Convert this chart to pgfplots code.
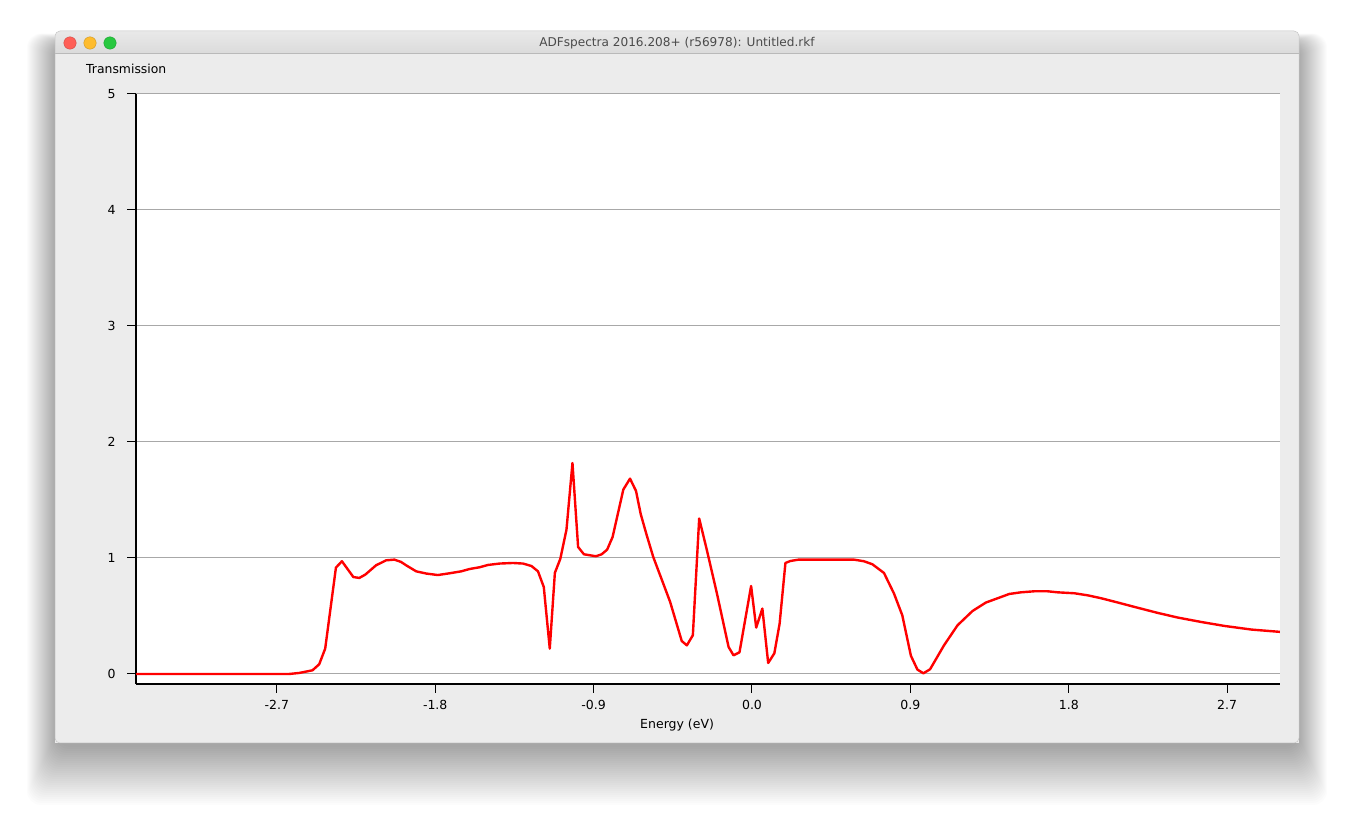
\documentclass[border=0pt]{standalone}
\usepackage{fontspec}
\setmainfont{DejaVu Sans}
\usepackage{pgfplots}
\pgfplotsset{compat=1.18}
\definecolor{winbg}{HTML}{ECECEC}
\definecolor{titletop}{HTML}{E9E9E9}
\definecolor{titlebot}{HTML}{D4D4D4}
\definecolor{titletext}{HTML}{4A4A4A}
\definecolor{gridgray}{HTML}{A8A8A8}
\definecolor{mred}{HTML}{FF5F57}
\definecolor{myellow}{HTML}{FEBC2E}
\definecolor{mgreen}{HTML}{28C840}
\pgfplotstableread{
x y
-3.5 0
-2.63 0
-2.573 0.009
-2.497 0.032
-2.459 0.084
-2.425 0.219
-2.364 0.917
-2.330 0.972
-2.265 0.836
-2.231 0.828
-2.197 0.857
-2.136 0.937
-2.079 0.980
-2.032 0.986
-1.994 0.966
-1.965 0.937
-1.908 0.885
-1.851 0.866
-1.785 0.853
-1.719 0.868
-1.652 0.885
-1.605 0.905
-1.548 0.920
-1.500 0.940
-1.434 0.952
-1.358 0.957
-1.301 0.952
-1.253 0.931
-1.216 0.885
-1.183 0.750
-1.149 0.219
-1.120 0.872
-1.089 0.993
-1.054 1.245
-1.020 1.819
-0.988 1.095
-0.955 1.032
-0.887 1.015
-0.854 1.032
-0.823 1.072
-0.792 1.181
-0.731 1.590
-0.693 1.684
-0.659 1.578
-0.632 1.377
-0.598 1.196
-0.561 1.009
-0.465 0.621
-0.399 0.284
-0.370 0.247
-0.336 0.334
-0.300 1.340
-0.256 1.066
-0.199 0.693
-0.133 0.233
-0.105 0.161
-0.071 0.187
-0.005 0.759
0.024 0.400
0.059 0.564
0.092 0.095
0.127 0.178
0.157 0.434
0.190 0.957
0.218 0.974
0.265 0.986
0.579 0.986
0.636 0.972
0.684 0.946
0.750 0.871
0.807 0.693
0.854 0.506
0.903 0.157
0.940 0.038
0.974 0.006
1.012 0.041
1.091 0.247
1.168 0.420
1.253 0.543
1.329 0.616
1.396 0.653
1.462 0.690
1.528 0.704
1.604 0.713
1.680 0.713
1.737 0.704
1.832 0.696
1.908 0.678
1.984 0.653
2.079 0.616
2.174 0.578
2.307 0.526
2.421 0.486
2.554 0.448
2.686 0.414
2.838 0.383
3.009 0.362
}\transmission
\begin{document}
\begin{tikzpicture}[x=1pt,y=1pt]
% canvas
\fill[white] (0,0) rectangle (1355,824);
% soft shadow
\foreach \i in {1,...,30} {
  \fill[black,opacity=0.013,rounded corners=14pt] (57-1.0*\i, 79-2.0*\i) rectangle (1297+1.0*\i, 780+0.35*\i);
}
% window title bar
\shade[top color=titletop,bottom color=titlebot,rounded corners=5pt] (55,760) rectangle (1299,793);
\fill[winbg] (55,81) rectangle (1299,771);
\draw[gray!55,line width=0.6pt] (55,771) -- (1299,771);
\draw[gray!45,line width=0.5pt,rounded corners=5pt] (55,81) -- (55,793) -- (1299,793) -- (1299,81) -- cycle;
% traffic lights
\fill[mred] (70,781) circle (6.2);
\draw[mred!80!black,line width=0.4pt] (70,781) circle (6.2);
\fill[myellow] (90,781) circle (6.2);
\draw[myellow!80!black,line width=0.4pt] (90,781) circle (6.2);
\fill[mgreen] (110,781) circle (6.2);
\draw[mgreen!80!black,line width=0.4pt] (110,781) circle (6.2);
\node[text=titletext,font=\fontsize{12.1}{14}\selectfont] at (677,781) {ADFspectra 2016.208+ (r56978): Untitled.rkf};
\begin{axis}[
  at={(136pt,140pt)}, anchor=south west,
  scale only axis, width=1144pt, height=590pt,
  xmin=-3.5, xmax=3.0, ymin=-0.0862, ymax=5,
  axis x line=bottom, axis y line=left,
  axis line style={-, line width=2.5pt, black},
  axis background/.style={fill=white},
  xtick={-2.7,-1.8,-0.9,0,0.9,1.8,2.7},
  ytick={0,1,2,3,4,5},
  ymajorgrids, grid style={gridgray, line width=1pt},
  tick align=outside, major tick length=9pt,
  tick style={black, line width=1pt},
  /pgf/number format/assume math mode=true,
  tick label style={font=\fontsize{12.5}{15}\selectfont},
  xticklabel style={yshift=-4pt, /pgf/number format/.cd, fixed, fixed zerofill, precision=1},
  yticklabel style={xshift=-8pt},
  xlabel={Energy (eV)},
  xlabel style={font=\fontsize{12.5}{15}\selectfont, at={(axis description cs:0.473,0)}, anchor=center, yshift=-41.5pt},
  ylabel={Transmission},
  ylabel style={font=\fontsize{12.4}{14}\selectfont, rotate=-90, inner sep=0pt, at={(axis description cs:-0.0437,1.0424)}, anchor=west},
  clip=true,
]
\addplot[red, line width=2.4pt, line join=round] table[x=x,y=y] {\transmission};
\end{axis}
\end{tikzpicture}
\end{document}
